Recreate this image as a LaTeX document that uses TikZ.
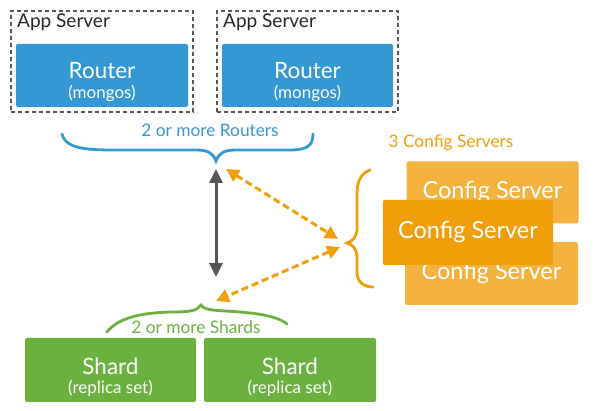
\documentclass[tikz,border=0pt]{standalone}
\usepackage{fontspec}
\setmainfont{Lato}
\usetikzlibrary{arrows.meta}
\definecolor{rblue}{HTML}{3598D2}
\definecolor{sgreen}{HTML}{6BB140}
\definecolor{corange}{HTML}{F09E0A}
\definecolor{cback}{HTML}{F4B23E}
\definecolor{dgray}{HTML}{555555}
\tikzset{
  appbox/.style={draw=dgray, dashed, line width=1.2pt, dash pattern=on 4pt off 3pt, minimum width=182pt, minimum height=101pt, inner sep=0pt},
  routerbox/.style={fill=rblue, rounded corners=2pt, minimum width=172pt, minimum height=63pt, inner sep=0pt},
  shardbox/.style={fill=sgreen, rounded corners=2pt, minimum width=171pt, minimum height=64pt, inner sep=0pt},
  bigtext/.style={inner sep=0pt, text=white, font=\fontsize{22.5}{25}\selectfont},
  smalltext/.style={inner sep=0pt, text=white, font=\fontsize{17}{18}\selectfont},
  cfgback/.style={fill=cback, rounded corners=2pt, minimum width=172pt, minimum height=62pt, inner sep=0pt, text=white, font=\fontsize{23.5}{25}\selectfont},
  cfgfront/.style={fill=corange, rounded corners=1pt, minimum width=170pt, minimum height=65pt, inner sep=0pt, text=white, font=\fontsize{23.5}{25}\selectfont},
  apptext/.style={anchor=base west, inner sep=0pt, text=black!85, font=\fontsize{19}{20}\selectfont},
  grouplabel/.style={inner sep=0pt, font=\fontsize{17.3}{19}\selectfont},
  brace/.style={line width=2.8pt, line cap=round},
  orangearrow/.style={draw=corange, line width=3pt, dash pattern=on 7pt off 4pt, {Triangle[length=13pt,width=13pt]}-{Triangle[length=13pt,width=13pt]}},
  grayarrow/.style={draw=dgray, line width=3pt, {Triangle[length=14pt,width=13pt]}-{Triangle[length=14pt,width=13pt]}}
}
\begin{document}
\begin{tikzpicture}[x=1pt,y=-1pt]
\useasboundingbox (0,0) rectangle (600,411);
% App servers
\node[appbox] (app1) at (102,61.5) {};
\node[appbox, minimum width=181pt] (app2) at (307.5,61.5) {};
\node[apptext] (app1t) at (17,28) {App Server};
\node[apptext] (app2t) at (223,28) {App Server};
% Routers
\node[routerbox] (r1) at (102,75.5) {};
\node[routerbox, minimum width=171pt] (r2) at (307.5,75.5) {};
\node[bigtext] (r1a) at (102,71) {Router};
\node[smalltext] (r1b) at (102,93) {(mongos)};
\node[bigtext] (r2a) at (307.5,71) {Router};
\node[smalltext] (r2b) at (307.5,93) {(mongos)};
% Router brace
\node[grouplabel, text=rblue] (rlab) at (210,130) {2 or more Routers};
\coordinate (bcusp) at (216,161);
\draw[brace, draw=rblue] (62,134) .. controls (66,150) and (90,150) .. (120,150)
  -- (196,150) .. controls (208,150) and (213,153) .. (bcusp)
  .. controls (219,153) and (224,150) .. (236,150) -- (290,150)
  .. controls (308,150) and (313,145) .. (313,134);
% Config servers
\node[grouplabel, text=corange] (clab) at (451,143) {3 Config Servers};
\node[cfgback] (c1) at (492.5,192.5) {Config Server};
\node[cfgback, minimum height=63pt, minimum width=173pt] (c3) at (491.5,273.5) {Config Server};
\node[cfgfront] (c2) at (468,232.5) {Config Server};
\coordinate (ccusp) at (347,243);
\draw[brace, draw=corange] (370,170) .. controls (360,174) and (357,182) .. (357,195)
  -- (357,228) .. controls (357,237) and (353,241) .. (ccusp)
  .. controls (353,245) and (357,249) .. (357,258) -- (357,272)
  .. controls (357,282) and (364,287) .. (373,287);
% Shard brace
\node[grouplabel, text=sgreen] (slab) at (196,327) {2 or more Shards};
\coordinate (scusp) at (201,305);
\draw[brace, draw=sgreen] (107,332) .. controls (118,318) and (140,313) .. (170,312)
  .. controls (190,312) and (197,311) .. (scusp)
  .. controls (205,311) and (215,310) .. (240,312)
  .. controls (265,314) and (280,318) .. (287,324);
% Shards
\node[shardbox] (s1) at (110.5,370) {};
\node[shardbox, minimum width=172pt] (s2) at (290,370) {};
\node[bigtext] (s1a) at (110.5,366) {Shard};
\node[smalltext] (s1b) at (110.5,388) {(replica set)};
\node[bigtext] (s2a) at (290,366) {Shard};
\node[smalltext] (s2b) at (290,388) {(replica set)};
% Arrows
\coordinate (gtop) at (216,169);
\coordinate (gbot) at (216,277);
\draw[grayarrow] (gtop) -- (gbot);
\coordinate (o1a) at (226,169);
\coordinate (o1b) at (338,239);
\draw[orangearrow] (o1a) -- (o1b);
\coordinate (o2a) at (340,247);
\coordinate (o2b) at (216,301);
\draw[orangearrow] (o2a) -- (o2b);
\end{tikzpicture}
\end{document}
